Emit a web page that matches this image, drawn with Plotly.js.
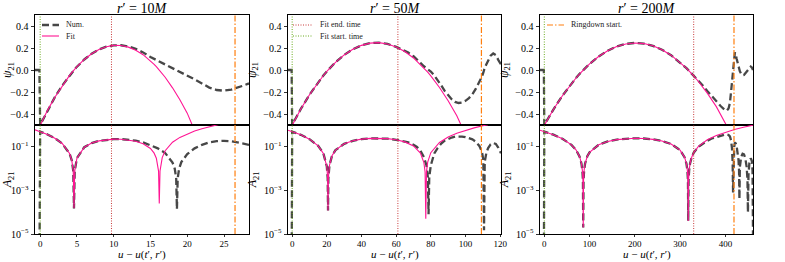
<!DOCTYPE html>
<html><head><meta charset="utf-8">
<script src="https://cdn.plot.ly/plotly-3.0.1.min.js"></script>
<style>html,body{margin:0;padding:0;background:#fff}#chart{width:785px;height:262px}</style>
</head><body><div id="chart"></div>
<script>
// ---------- data: r' = 10M ----------
const num10X = [-0.7,-0.1,0,1,2,3,4,4.3,4.5,4.6,4.7,4.9,5,6,7,8,9,10,11,12,13,14,15,16,17,18,18.3,18.5,18.6,18.7,18.9,19.2,20,21,22,23,24,25,26,26.6,27.5,28.4];
const num10Y = [1e-7,1e-7,-0.499,-0.367,-0.247,-0.142,-0.049,-0.024,-0.0078,-0.00015,0.0077,0.0227,0.030,0.0957,0.148,0.187,0.212,0.224,0.225,0.214,0.192,0.160,0.118,0.085,0.052,0.019,0.010,0.0035,0.00014,-0.0035,-0.010,-0.020,-0.046,-0.085,-0.122,-0.160,-0.182,-0.188,-0.178,-0.167,-0.145,-0.122];
const fit10X = [-0.7,0,1,2,3,4,4.3,4.5,4.6,4.7,4.9,5,6,7,8,9,10,11,12,13,14,15,15.5,15.8,16.1,16.2,16.3,16.6,17,18,19,20,21,22,23,24,24.5];
const fit10Y = [-0.600,-0.499,-0.367,-0.247,-0.142,-0.049,-0.024,-0.0078,-0.00015,0.0077,0.0227,0.030,0.0957,0.148,0.187,0.212,0.224,0.223,0.208,0.180,0.139,0.0836,0.0511,0.030,0.0077,0.00025,-0.0078,-0.032,-0.066,-0.162,-0.270,-0.392,-0.527,-0.676,-0.838,-1.014,-1.107];

// ---------- data: r' = 50M ----------
const num50X = [-2.4,-0.3,0,5,10,15,18,20,20.5,20.7,20.9,21.5,23,25,30,35,40,45,50,55,60,63,65,67,70,72,74,76,77.5,78.3,78.7,79.1,80,82,84,86,88,90,92,94,96,98,100,102,104,106,108,109.5,110.3,110.7,111.1,112,113,114.5,116,117.5,119,120.5];
const num50Y = [1e-7,1e-7,-0.4995,-0.354,-0.2247,-0.1108,-0.050,-0.0125,-0.0036,0.00012,0.0035,0.0139,0.0389,0.0701,0.137,0.188,0.224,0.244,0.2485,0.237,0.210,0.19,0.175,0.158,0.125,0.098,0.066,0.034,0.014,0.004,0.00008,-0.004,-0.014,-0.05,-0.09,-0.14,-0.19,-0.23,-0.265,-0.29,-0.30,-0.295,-0.28,-0.255,-0.22,-0.17,-0.11,-0.06,-0.025,-0.000015,0.02,0.05,0.085,0.13,0.15,0.135,0.09,0.05];
const fit50X = [-2.4,0,5,10,15,18,20,20.5,20.7,20.9,21.5,23,25,30,35,40,45,50,55,60,65,70,74,76,76.7,77.1,77.5,78.2,80,85,90,95,100,105,110,113];
const fit50Y = [-0.575,-0.4995,-0.354,-0.2247,-0.1108,-0.050,-0.0125,-0.0036,0.00012,0.0035,0.0139,0.0389,0.0701,0.137,0.188,0.224,0.244,0.2485,0.237,0.210,0.168,0.1096,0.0517,0.019,0.0070,0.00005,-0.0071,-0.0198,-0.0538,-0.159,-0.280,-0.416,-0.568,-0.736,-0.920,-1.037];

// ---------- data: r' = 200M ----------
const num200X = [-9.5,-1,0,20,40,60,70,78,82,84,85.3,86,86.7,88,90,95,100,120,140,160,180,200,220,240,260,280,300,310,314,316,317.3,318,318.7,320,322,326,330,340,350,360,370,380,390,398,403,407,410,412.5,414.5,416,417,418,419.5,421,423,425,427,429,430.2,431,432,435,438,441,444,447,448.8,449.8,451,453,456,458.5,460,461];
const num200Y = [1e-7,1e-7,-0.4999,-0.3595,-0.2338,-0.1226,-0.0725,-0.0351,-0.01726,-0.00856,-0.00298,0.00002,0.00296,0.0084,0.01667,0.0367,0.0558,0.1231,0.1757,0.2137,0.2371,0.2459,0.2401,0.2196,0.1845,0.1348,0.0704,0.0328,0.01667,0.0084,0.00296,0.00004,-0.00298,-0.00856,-0.01726,-0.0351,-0.0535,-0.098,-0.14,-0.19,-0.24,-0.285,-0.33,-0.36,-0.37,-0.35,-0.30,-0.20,-0.09,-0.02,-0.0008,0.03,0.10,0.16,0.14,0.10,0.06,0.025,0.008,0.0004,-0.012,-0.035,-0.048,-0.045,-0.03,-0.012,-0.003,-0.0001,0.005,0.018,0.03,0.022,0.008,0.00001];
const fit200X = [-9.5,0,20,40,60,70,78,82,84,85.3,86,86.7,88,90,95,100,120,140,160,180,200,220,240,260,280,300,310,314,316,317.3,318,318.7,320,322,326,330,340,360,380,400,420,440,461];
const fit200Y = [-0.5717,-0.4999,-0.3595,-0.2338,-0.1226,-0.0725,-0.0351,-0.01726,-0.00856,-0.00298,0.00002,0.00296,0.0084,0.01667,0.0367,0.0558,0.1231,0.1757,0.2137,0.2371,0.2459,0.2401,0.2196,0.1845,0.1348,0.0704,0.0328,0.01667,0.0084,0.00296,0.00004,-0.00298,-0.00856,-0.01726,-0.0351,-0.0535,-0.1021,-0.2104,-0.3332,-0.4707,-0.6228,-0.7895,-0.9803];

// ---------- per-panel metadata ----------
const panelTitles = ['10', '50', '200'];
const fitStart = [0, 0, 0];
const fitEnd = [9.7, 61, 330];
const ringdown = [26.5, 109.2, 419];
const xRanges = [[-0.7, 28.4], [-2.4, 120.5], [-9.5, 461]];
const xTicks = [[0,5,10,15,20,25],[0,20,40,60,80,100,120],[0,100,200,300,400]];
const psiTicks = [-0.4,-0.2,0,0.2,0.4];
const psiTickText = ['\u22120.4','\u22120.2','0.0','0.2','0.4'];
const ampTicks = [1e-5,1e-3,1e-1];
const ampTickText = ['10<sup>\u22125</sup>','10<sup>\u22123</sup>','10<sup>\u22121</sup>'];
const xTitle = '<i>u</i> \u2212 <i>u</i>(<i>t</i>\u2032, <i>r</i>\u2032)';

const numX = [num10X, num50X, num200X];
const numY = [num10Y, num50Y, num200Y];
const fitX = [fit10X, fit50X, fit200X];
const fitY = [fit10Y, fit50Y, fit200Y];

// ---------- layout geometry (pixels) ----------
const W = 785, H = 262;
const colPx = [[35,249],[288,501],[540,753]];
const topPx = [15,125], botPx = [125,234];
const fx = v => v / W, fy = v => 1 - v / H;

const FONT = 'Liberation Serif, Times New Roman, serif';
const NUMC = '#474747', FITC = '#ff1493', ENDC = '#c83a3a', STARTC = '#6aaa1e', RDC = '#ff7f0e';
const NUMDASH = '7px,3.5px', DOTDASH = '1px,1.5px', RDDASH = '6px,2px,1.5px,2px';

const traces = [];
const layout = {
  width: W, height: H, margin: {l:0, r:0, t:0, b:0},
  paper_bgcolor: '#fff', plot_bgcolor: '#fff',
  font: {family: FONT, size: 10, color: '#000'},
  showlegend: false,
  annotations: [], shapes: []
};
const ax = n => (n === 1 ? '' : String(n));

for (let c = 0; c < 3; c++) {
  const it = c + 1, ib = c + 4;
  const xt = 'x' + ax(it), yt = 'y' + ax(it), xb = 'x' + ax(ib), yb = 'y' + ax(ib);
  const dom = [fx(colPx[c][0]), fx(colPx[c][1])];
  const axCommon = {showline: true, mirror: true, linecolor: '#000', linewidth: 1, showgrid: false, zeroline: false,
    ticks: 'outside', ticklen: 3.5, tickwidth: 0.8, tickcolor: '#000', tickfont: {family: FONT, size: 10, color: '#000'}};
  layout['xaxis' + ax(it)] = Object.assign({}, axCommon, {domain: dom, range: xRanges[c], anchor: yt, showticklabels: false, ticks: ''});
  layout['yaxis' + ax(it)] = Object.assign({}, axCommon, {domain: [fy(topPx[1]), fy(topPx[0])], range: [-0.5, 0.5], anchor: xt,
    tickvals: psiTicks, ticktext: psiTickText,
    title: {text: '<i>\u03c8</i><sub>21</sub>', font: {family: FONT, size: 12}, standoff: 4}});
  layout['xaxis' + ax(ib)] = Object.assign({}, axCommon, {domain: dom, range: xRanges[c], anchor: yb, matches: xt,
    tickvals: xTicks[c], ticklen: 1.5, tickfont: {family: FONT, size: 9, color: '#000'}});
  layout['yaxis' + ax(ib)] = Object.assign({}, axCommon, {domain: [fy(botPx[1]), fy(botPx[0])], type: 'log', range: [-5, 0], anchor: xb,
    tickvals: ampTicks, ticktext: ampTickText,
    title: {text: '<i>A</i><sub>21</sub>', font: {family: FONT, size: 12}, standoff: 4}});

  layout.annotations.push({xref: 'paper', yref: 'paper', x: (dom[0]+dom[1])/2, y: fy(8), xanchor: 'center', yanchor: 'middle',
    text: '<i>r</i>\u2032 = ' + panelTitles[c] + '<i>M</i>', showarrow: false, font: {family: FONT, size: 14, color: '#000'}});
  layout.annotations.push({xref: 'paper', yref: 'paper', x: (dom[0]+dom[1])/2, y: 0, xanchor: 'center', yanchor: 'bottom',
    text: xTitle, showarrow: false, font: {family: FONT, size: 11, color: '#000'}, borderpad: 0});

  const ampNum = numY[c].map(Math.abs);
  const ampFit = fitY[c].map(Math.abs);

  traces.push({x: numX[c], y: numY[c], xaxis: xt, yaxis: yt, mode: 'lines', name: 'Num.',
    line: {color: NUMC, width: 2.3, dash: NUMDASH}});
  traces.push({x: fitX[c], y: fitY[c], xaxis: xt, yaxis: yt, mode: 'lines', name: 'Fit',
    line: {color: FITC, width: 1.1}});
  traces.push({x: numX[c], y: ampNum, xaxis: xb, yaxis: yb, mode: 'lines', name: 'Num.',
    line: {color: NUMC, width: 2.3, dash: NUMDASH}});
  traces.push({x: fitX[c], y: ampFit, xaxis: xb, yaxis: yb, mode: 'lines', name: 'Fit',
    line: {color: FITC, width: 1.1}});
  const vdefs = [
    {v: fitEnd[c], name: 'Fit end. time', color: ENDC, dash: DOTDASH, width: 1},
    {v: fitStart[c], name: 'Fit start. time', color: STARTC, dash: DOTDASH, width: 1},
    {v: ringdown[c], name: 'Ringdown start.', color: RDC, dash: RDDASH, width: 1.2}
  ];
  vdefs.forEach(d => {
    traces.push({x: [d.v, d.v], y: [-0.5, 0.5], xaxis: xt, yaxis: yt, mode: 'lines', name: d.name,
      line: {color: d.color, width: d.width, dash: d.dash}});
    traces.push({x: [d.v, d.v], y: [1e-5, 1], xaxis: xb, yaxis: yb, mode: 'lines', name: d.name,
      line: {color: d.color, width: d.width, dash: d.dash}});
  });
}

// ---------- legends (keyed entries drawn in each panel) ----------
const legendEntries = [
  {label: 'Num.', color: NUMC, dash: NUMDASH, width: 2.3, x0: 42, x1: 59, y: 25},
  {label: 'Fit', color: FITC, dash: 'solid', width: 1.1, x0: 42, x1: 59, y: 36},
  {label: 'Fit end. time', color: ENDC, dash: DOTDASH, width: 1, x0: 293, x1: 313, y: 25},
  {label: 'Fit start. time', color: STARTC, dash: DOTDASH, width: 1, x0: 293, x1: 313, y: 36},
  {label: 'Ringdown start.', color: RDC, dash: RDDASH, width: 1.2, x0: 547, x1: 564, y: 25}
];
legendEntries.forEach(e => {
  layout.shapes.push({type: 'line', xref: 'paper', yref: 'paper', x0: fx(e.x0), x1: fx(e.x1), y0: fy(e.y), y1: fy(e.y),
    line: {color: e.color, width: e.width, dash: e.dash}});
  layout.annotations.push({xref: 'paper', yref: 'paper', x: fx(e.x1 + 5), y: fy(e.y), xanchor: 'left', yanchor: 'middle',
    text: e.label, showarrow: false, font: {family: FONT, size: 8, color: '#222'}});
});

Plotly.newPlot('chart', traces, layout, {displayModeBar: false, staticPlot: true});
</script></body></html>
